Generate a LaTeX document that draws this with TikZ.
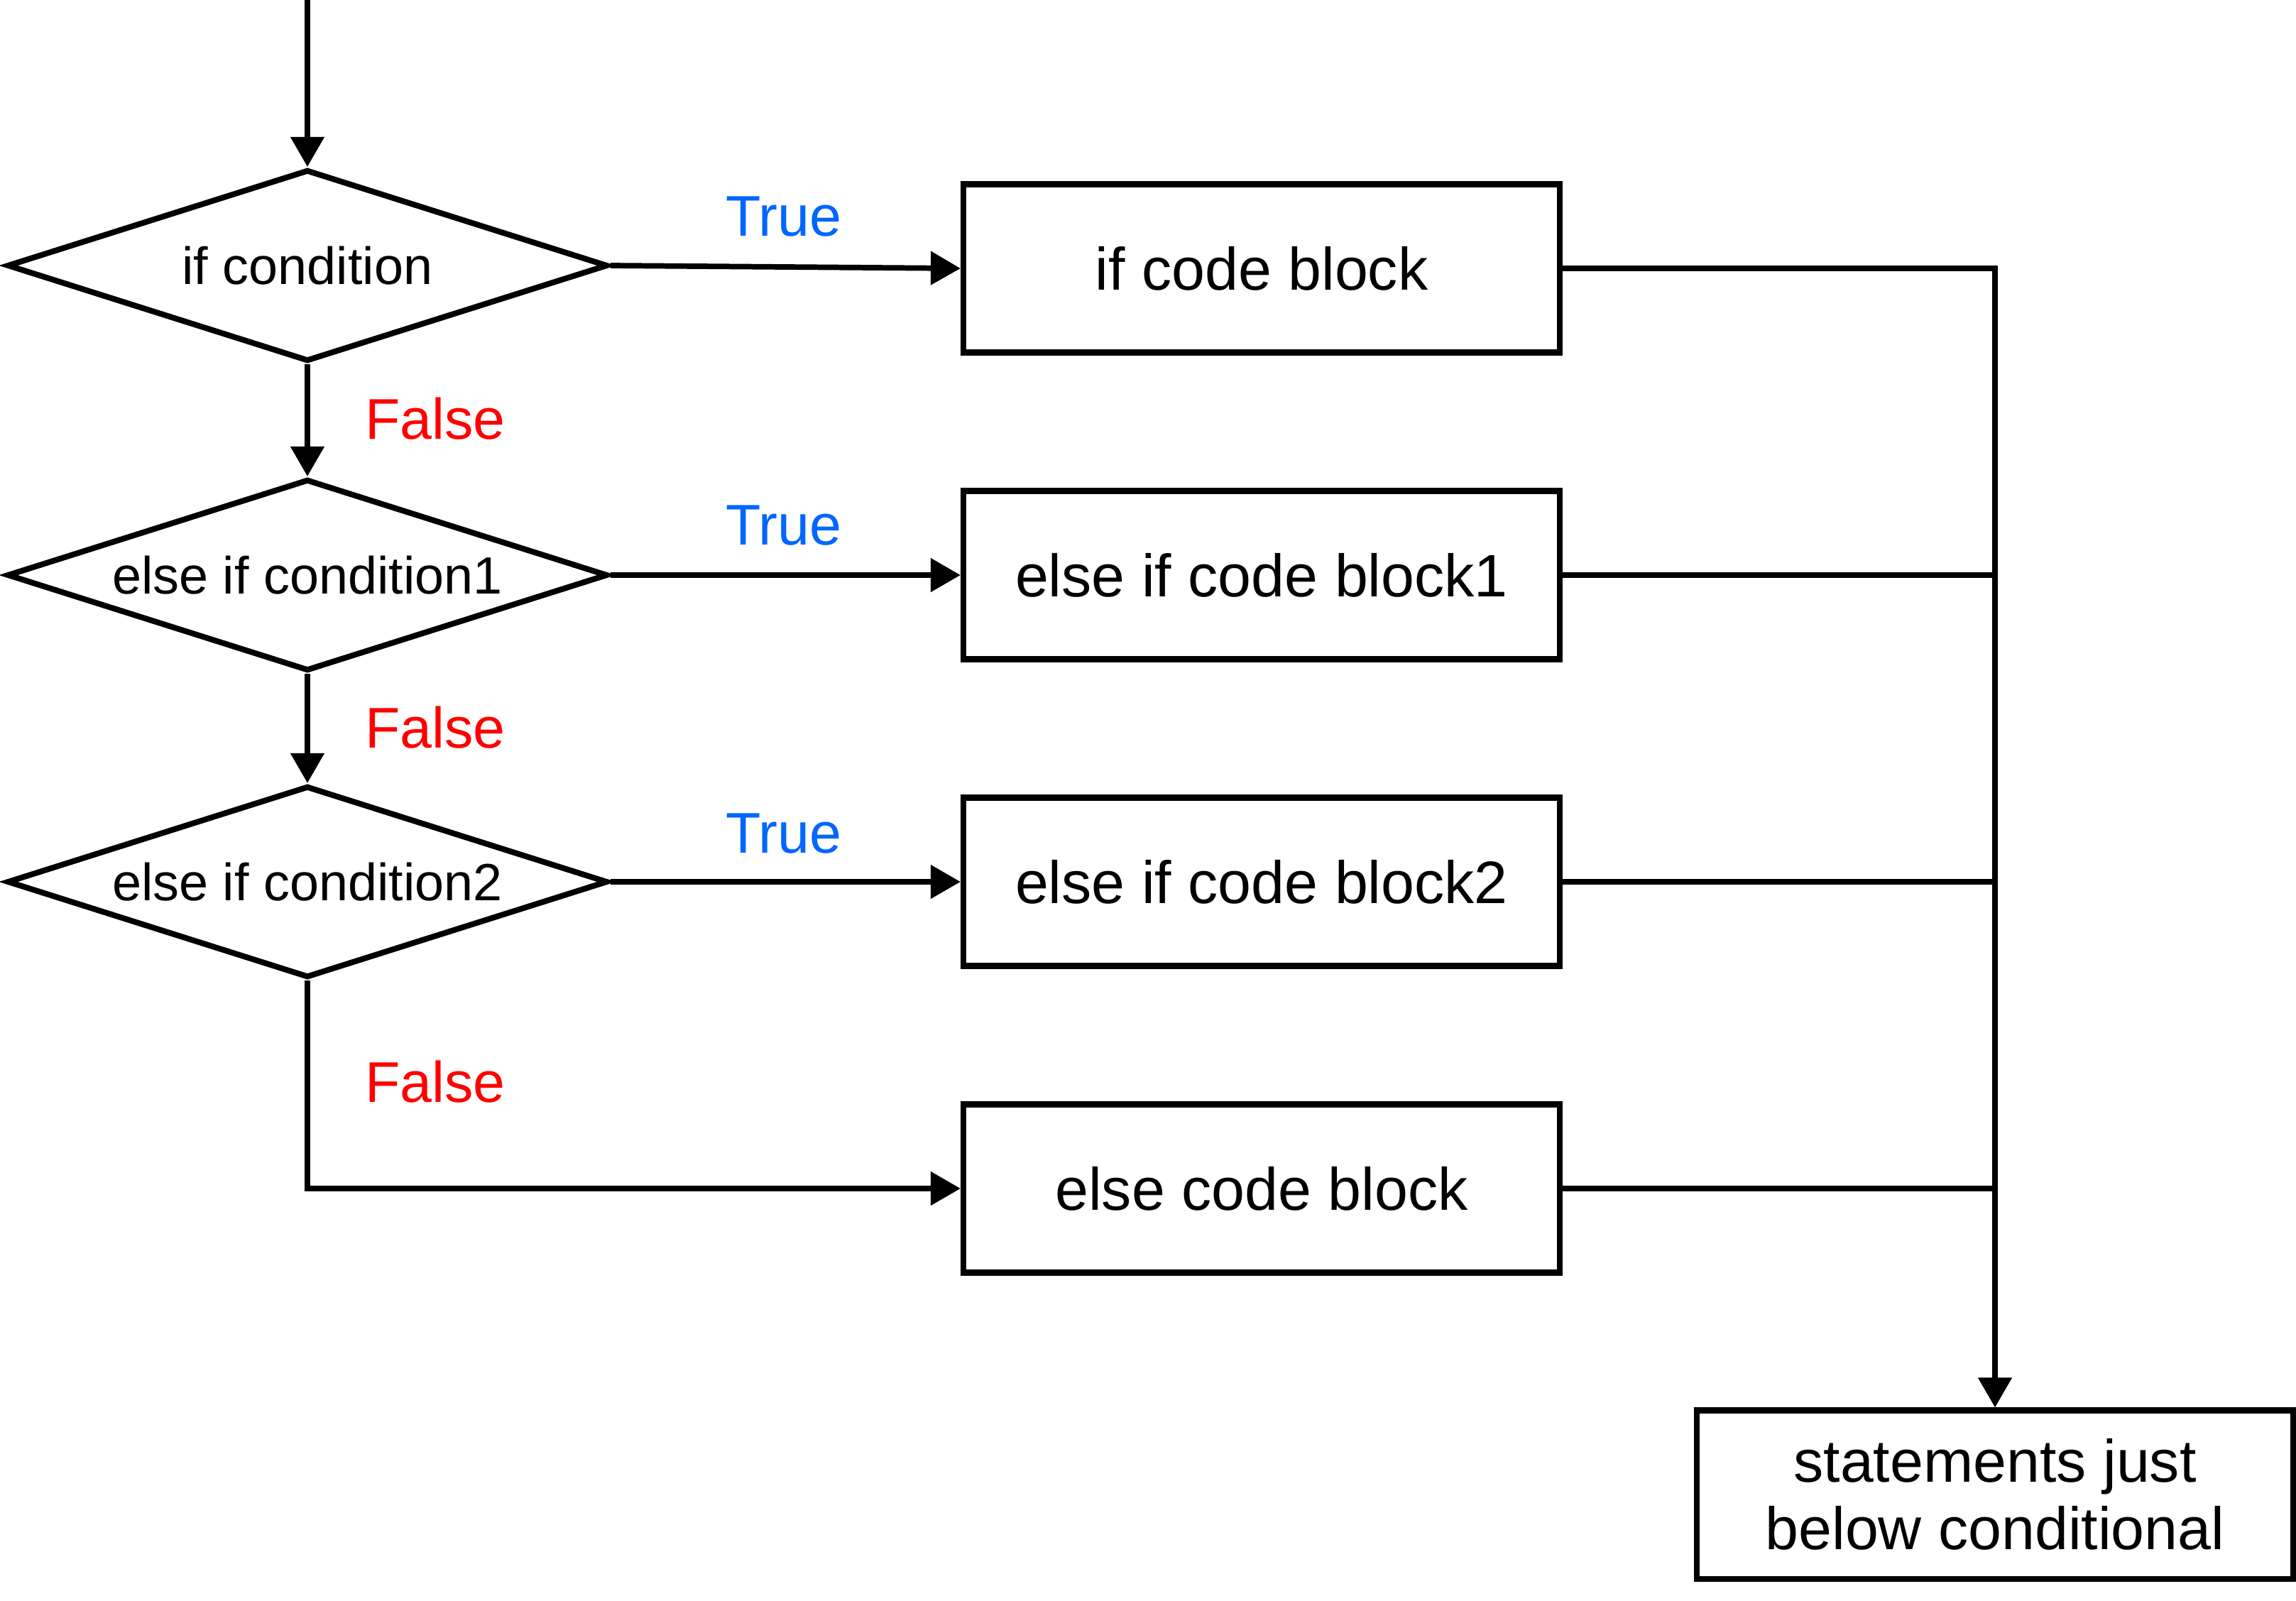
\documentclass[tikz,border=0pt]{standalone}
\usepackage{fontspec}
\setmainfont{Liberation Sans}
\usepackage{tikz}
\usetikzlibrary{shapes.geometric, arrows.meta}

\begin{document}
\begin{tikzpicture}[
        box/.style={draw, line width=2.3pt, align=center, minimum width=8.4cm, minimum height=2.37cm, font=\fontsize{24}{27}\selectfont},
        cond/.style={diamond, draw, line width=2.3pt, aspect=3.13, inner sep=0pt, minimum width=8.46cm, minimum height=2.7cm, font=\fontsize{21}{25}\selectfont},
        yes/.style={text=trueBlue, font=\fontsize{23}{27}\selectfont},
        no/.style={text=red, font=\fontsize{23}{27}\selectfont},
        line/.style={line width=2.2pt},
        arrow/.style={line, -{Triangle[length=0.42cm, width=0.46cm]}}
    ]
    \definecolor{trueBlue}{RGB}{0,102,255}
    \useasboundingbox (0,0) rectangle (32.34,-22.54);
    % Nodes
    \coordinate (start) at (4.33, 0);
    \node[cond] (ifCondition) at (4.33, -3.74) {if condition};
    \node[cond] (elseIfCond1) at (4.33, -8.10) {else if condition1};
    \node[cond] (elseIfCond2) at (4.33, -12.42) {else if condition2};
    \node[box] (ifBlock) at (17.77, -3.78) {if code block};
    \node[box] (elseIfBlock1) at (17.77, -8.10) {else if code block1};
    \node[box] (elseIfBlock2) at (17.77, -12.42) {else if code block2};
    \node[box] (elseBlock) at (17.77, -16.74) {else code block};
    \node[box] (nextStep) at (28.10, -21.05) {statements just \\ below conditional};
    % Labels
    \node[yes] (true1) at (11.04, -3.05) {True};
    \node[yes] (true2) at (11.04, -7.40) {True};
    \node[yes] (true3) at (11.04, -11.74) {True};
    \node[no] (false1) at (6.13, -5.90) {False};
    \node[no] (false2) at (6.13, -10.25) {False};
    \node[no] (false3) at (6.13, -15.24) {False};
    % Arrows
    \draw[arrow] (start) -- (ifCondition.north);
    \draw[arrow] (ifCondition.south) -- (elseIfCond1.north);
    \draw[arrow] (elseIfCond1.south) -- (elseIfCond2.north);
    \draw[arrow] (elseIfCond2.south) |- (elseBlock.west);

    \draw[arrow] (ifCondition.east) -- (ifBlock.west);
    \draw[arrow] (elseIfCond1.east) -- (elseIfBlock1.west);
    \draw[arrow] (elseIfCond2.east) -- (elseIfBlock2.west);

    \draw[arrow] (ifBlock.east) -| (nextStep.north);
    \draw[line] (elseIfBlock1.east) -- (elseIfBlock1.east -| nextStep.north);
    \draw[line] (elseIfBlock2.east) -- (elseIfBlock2.east -| nextStep.north);
    \draw[line] (elseBlock.east) -- (elseBlock.east -| nextStep.north);

    \end{tikzpicture}
\end{document}
